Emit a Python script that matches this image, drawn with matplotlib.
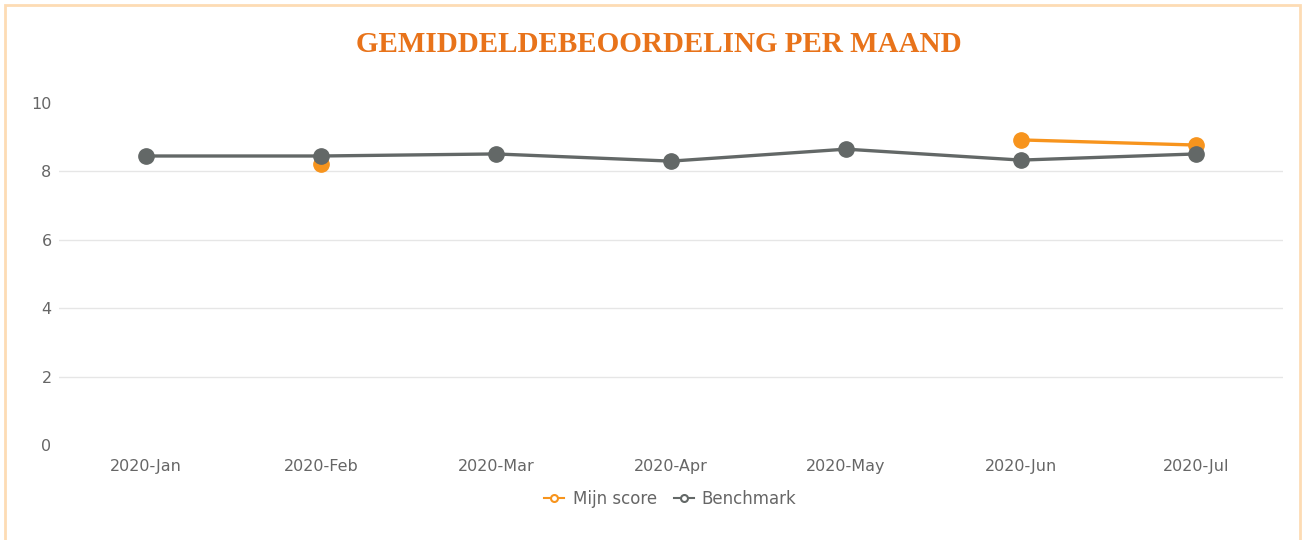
import numpy as np
import matplotlib
matplotlib.use('Agg')
import matplotlib.pyplot as plt
from matplotlib.patches import Rectangle
from matplotlib.lines import Line2D

plt.rcParams['font.family'] = ['DejaVu Sans']

maanden = ['2020-Jan', '2020-Feb', '2020-Mar', '2020-Apr', '2020-May', '2020-Jun', '2020-Jul']
mijn_score = [np.nan, 8.22, np.nan, np.nan, np.nan, 8.92, 8.77]
benchmark = [8.45, 8.45, 8.51, 8.30, 8.65, 8.33, 8.51]

oranje = '#f7941d'
grijs = '#636867'

fig = plt.figure(figsize=(13.07, 5.40), dpi=100)
ax = fig.add_axes([0.0448, 0.1759, 0.9372, 0.6334])

x = np.arange(len(maanden))
ax.plot(x, mijn_score, color=oranje, lw=2.4, marker='o', ms=11, zorder=3)
ax.plot(x, benchmark, color=grijs, lw=2.4, marker='o', ms=11, zorder=4)

ax.set_xlim(-0.5, len(maanden) - 0.5)
ax.set_ylim(0, 10)
ax.set_xticks(x)
ax.set_xticklabels(maanden)
ax.set_yticks([0, 2, 4, 6, 8, 10])
for yv in [2, 4, 6, 8]:
    ax.axhline(yv, color='#e6e6e6', lw=1, zorder=1)
for s in ax.spines.values():
    s.set_visible(False)
ax.tick_params(length=0, labelsize=11.5, labelcolor='#666666')
ax.tick_params(axis='x', pad=10)
ax.tick_params(axis='y', pad=5)

fig.text(0.504, 0.918, 'GEMIDDELDEBEOORDELING PER MAAND', ha='center', va='center',
         fontsize=21, fontweight='bold', color='#e8731a', family='Liberation Serif')

handles = [Line2D([], [], color=oranje, lw=1.5, marker='o', ms=5, mfc='white', mew=1.5),
           Line2D([], [], color=grijs, lw=1.5, marker='o', ms=5, mfc='white', mew=1.5)]
fig.legend(handles, ['Mijn score', 'Benchmark'], loc='center', bbox_to_anchor=(0.513, 0.076),
           ncol=2, frameon=False, fontsize=12, labelcolor='#666666', handlelength=1.2,
           handletextpad=0.5, columnspacing=1.0)

fig.patches.append(Rectangle((0.004, -0.05), 0.991, 1.04, transform=fig.transFigure,
                             fill=False, edgecolor='#fddcb4', lw=2))

fig.savefig('out.png', dpi=100)
